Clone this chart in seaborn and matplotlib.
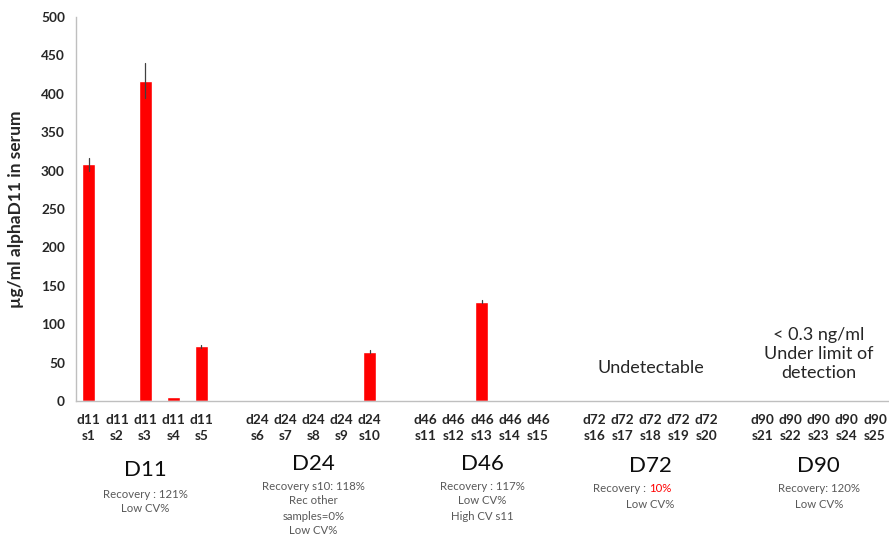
import numpy as np
import pandas as pd
import matplotlib.pyplot as plt
import seaborn as sns
from matplotlib.transforms import blended_transform_factory

# data
groups = ["D11", "D24", "D46", "D72", "D90"]
days = ["d11", "d24", "d46", "d72", "d90"]
samples = ["s%d" % i for i in range(1, 26)]
values = [308, 0, 417, 5, 71,
          0, 0, 0, 0, 64,
          1.5, 0, 129, 0, 0,
          0, 0, 0, 0, 0,
          0, 0, 0, 0, 0]
errors = [8, 0, 23, 0, 2,
          0, 0, 0, 0, 2,
          0, 0, 2, 0, 0,
          0, 0, 0, 0, 0,
          0, 0, 0, 0, 0]
notes = [["Recovery : 121%", "Low CV%"],
         ["Recovery s10: 118%", "Rec other", "samples=0%", "Low CV%"],
         ["Recovery : 117%", "Low CV%", "High CV s11"],
         ["Recovery : 10%", "Low CV%"],
         ["Recovery: 120%", "Low CV%"]]

# slot positions: 5 samples per group, then an empty slot
pos = []
labels = []
for g, d in enumerate(days):
    for k in range(5):
        pos.append(g * 6 + k)
        labels.append(d + "\n" + samples[g * 5 + k])

df = pd.DataFrame({"pos": pos, "value": values, "err": errors})

sns.set_style("white")
plt.rcParams['font.family'] = ['Lato', 'DejaVu Sans']

fig = plt.figure(figsize=(8.89, 5.37), dpi=100)
ax = fig.add_axes([76 / 889, 1 - 401 / 537, 1 - 76 / 889, 384 / 537])

sns.barplot(data=df, x="pos", y="value", native_scale=True, width=0.46,
            color="#FF0000", saturation=1, errorbar=None, ax=ax)
for p, v, e in zip(df["pos"], df["value"], df["err"]):
    if e > 0:
        ax.plot([p, p], [v - e, v + e], color="#404040", lw=0.9)

ax.set_xlim(-0.46, 28.37)
ax.set_ylim(0, 500)
ax.set_yticks(np.arange(0, 501, 50))
ax.set_xticks(pos)
ax.set_xticklabels(labels, fontsize=9.8, fontweight="bold", color="#262626",
                   linespacing=1.5)
ax.set_xticks(np.arange(0.5, 29, 1), minor=True)
ax.tick_params(axis="x", which="major", length=0, pad=9)
ax.tick_params(axis="x", which="minor", length=4, color="#BFBFBF", width=1,
               direction="out")
ax.tick_params(axis="y", length=4, color="#BFBFBF", direction="out",
               labelsize=9.8, labelcolor="#262626", pad=4)
for t in ax.get_yticklabels():
    t.set_fontweight("bold")
ax.set_xlabel("")
ax.set_ylabel("µg/ml alphaD11 in serum", fontsize=12.5, fontweight="bold",
              color="#262626", labelpad=12)

for s in ["top", "right"]:
    ax.spines[s].set_visible(False)
for s in ["left", "bottom"]:
    ax.spines[s].set_color("#BFBFBF")
    ax.spines[s].set_linewidth(1)

# group headers and notes
tr = blended_transform_factory(ax.transData, fig.transFigure)
head_y = [470, 464, 464, 466, 466]
note_y = [494, 486, 486, 489, 489]
centers = [2, 8, 14, 20, 26]
for g in range(5):
    ax.text(centers[g], 1 - head_y[g] / 537, groups[g], transform=tr,
            ha="center", va="center", fontsize=16, color="#0d0d0d")
    for i, line in enumerate(notes[g]):
        y = 1 - (note_y[g] + 15 * i) / 537
        if line == "Recovery : 10%":
            ax.text(centers[g] - 0.05, y, "Recovery : ", transform=tr, ha="right",
                    va="center", fontsize=8.2, color="#595959")
            ax.text(centers[g] - 0.05, y, "10%", transform=tr, ha="left",
                    va="center", fontsize=8.2, color="#FF0000")
        else:
            ax.text(centers[g], y, line, transform=tr, ha="center",
                    va="center", fontsize=8.2, color="#595959")

ax.text(20, 1 - 368 / 537, "Undetectable", transform=tr, ha="center",
        va="center", fontsize=13, color="#262626")
ax.text(26, 1 - 354 / 537, "< 0.3 ng/ml\nUnder limit of\ndetection",
        transform=tr, ha="center", va="center", fontsize=13, color="#262626",
        linespacing=1.2)

fig.savefig("out.png", dpi=100)
